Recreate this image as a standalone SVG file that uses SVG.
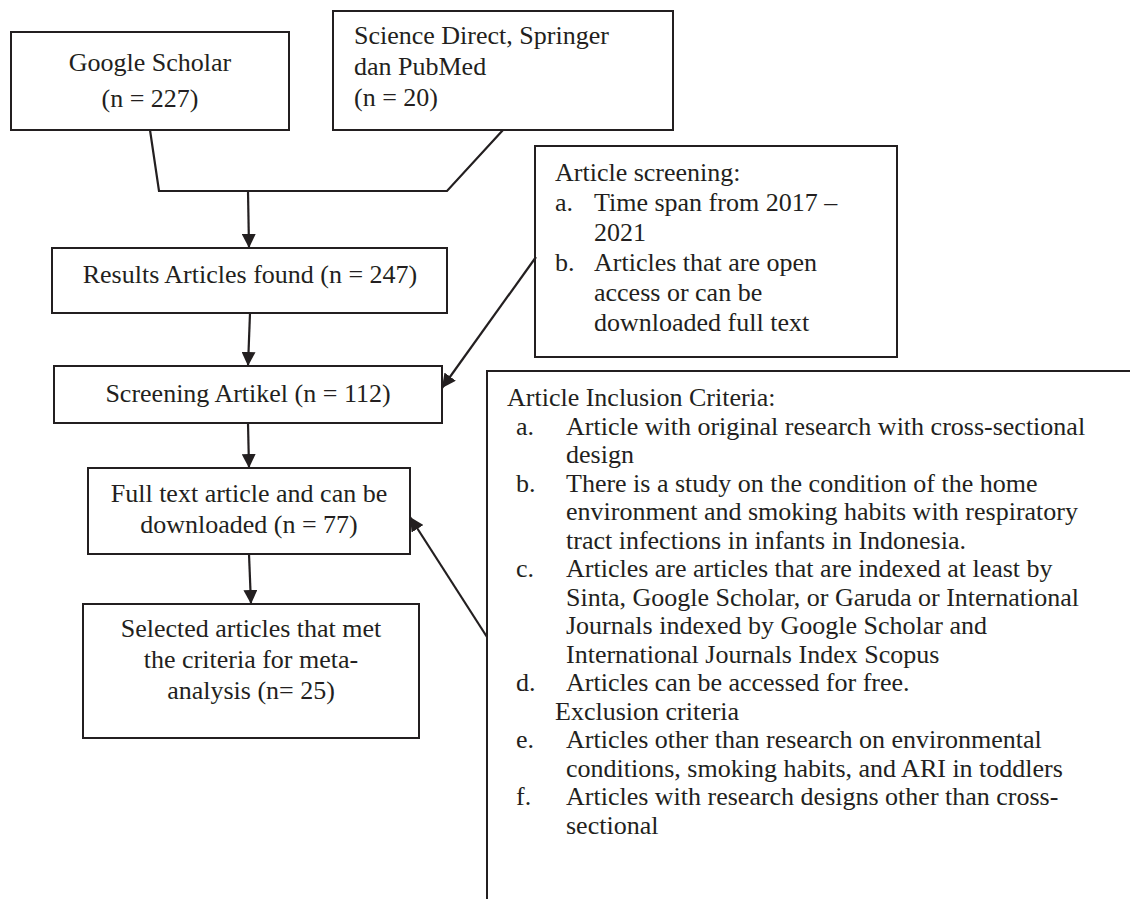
<svg xmlns="http://www.w3.org/2000/svg" width="1130" height="899" viewBox="0 0 1130 899">
<defs>
<style>
.box{fill:#fff;stroke:#231f20;stroke-width:2}
.t{font-family:"Liberation Serif","Times New Roman",serif;font-size:26px;fill:#231f20}
.c{text-anchor:middle}
.ln{fill:none;stroke:#231f20;stroke-width:2.2}
</style>
<marker id="ah" viewBox="0 0 14 14" refX="14" refY="7" markerWidth="14" markerHeight="14" markerUnits="userSpaceOnUse" orient="auto">
<path d="M0,0 L14,7 L0,14 Z" fill="#231f20"/>
</marker>
</defs>
<rect width="1130" height="899" fill="#fff"/>

<g id="google-scholar">
<rect class="box" x="11" y="32" width="278" height="98"/>
<text class="t c" x="150" y="71">Google Scholar</text>
<text class="t c" x="150" y="107">(n = 227)</text>
</g>

<g id="science-direct">
<rect class="box" x="333" y="11" width="340" height="119"/>
<text class="t" x="354" y="44">Science Direct, Springer</text>
<text class="t" x="354" y="75">dan PubMed</text>
<text class="t" x="354" y="106">(n = 20)</text>
</g>

<g id="article-screening">
<rect class="box" x="535" y="146" width="362" height="211"/>
<text class="t" x="555" y="181">Article screening:</text>
<text class="t" x="555" y="211">a.</text>
<text class="t" x="594" y="211">Time span from 2017 –</text>
<text class="t" x="594" y="241">2021</text>
<text class="t" x="555" y="271">b.</text>
<text class="t" x="594" y="271">Articles that are open</text>
<text class="t" x="594" y="301">access or can be</text>
<text class="t" x="594" y="331">downloaded full text</text>
</g>

<g id="results">
<rect class="box" x="52" y="248" width="395" height="65"/>
<text class="t c" x="250" y="283">Results Articles found (n = 247)</text>
</g>

<g id="screening">
<rect class="box" x="54" y="366" width="388" height="57"/>
<text class="t c" x="248" y="402">Screening Artikel (n = 112)</text>
</g>

<g id="fulltext">
<rect class="box" x="88" y="468" width="322" height="86"/>
<text class="t c" x="249" y="502">Full text article and can be</text>
<text class="t c" x="249" y="533">downloaded (n = 77)</text>
</g>

<g id="selected">
<rect class="box" x="83" y="604" width="336" height="134"/>
<text class="t c" x="251" y="637">Selected articles that met</text>
<text class="t c" x="251" y="668">the criteria for meta-</text>
<text class="t c" x="251" y="699">analysis (n= 25)</text>
</g>

<g id="inclusion">
<path class="box" style="fill:none" d="M487,899 L487,371 L1130,371"/>
<text class="t" x="507" y="406">Article Inclusion Criteria:</text>
<text class="t" x="516" y="434.5">a.</text>
<text class="t" x="566" y="434.5">Article with original research with cross-sectional</text>
<text class="t" x="566" y="463">design</text>
<text class="t" x="516" y="491.5">b.</text>
<text class="t" x="566" y="491.5">There is a study on the condition of the home</text>
<text class="t" x="566" y="520">environment and smoking habits with respiratory</text>
<text class="t" x="566" y="548.5">tract infections in infants in Indonesia.</text>
<text class="t" x="516" y="577">c.</text>
<text class="t" x="566" y="577">Articles are articles that are indexed at least by</text>
<text class="t" x="566" y="605.5">Sinta, Google Scholar, or Garuda or International</text>
<text class="t" x="566" y="634">Journals indexed by Google Scholar and</text>
<text class="t" x="566" y="662.5">International Journals Index Scopus</text>
<text class="t" x="516" y="691">d.</text>
<text class="t" x="566" y="691">Articles can be accessed for free.</text>
<text class="t" x="555" y="719.5">Exclusion criteria</text>
<text class="t" x="516" y="748">e.</text>
<text class="t" x="566" y="748">Articles other than research on environmental</text>
<text class="t" x="566" y="776.5">conditions, smoking habits, and ARI in toddlers</text>
<text class="t" x="516" y="805">f.</text>
<text class="t" x="566" y="805">Articles with research designs other than cross-</text>
<text class="t" x="566" y="833.5">sectional</text>
</g>

<g id="connectors">
<path class="ln" d="M150,130 L159,191 L447,191 L503,130"/>
<path class="ln" d="M248,191 L249,248" marker-end="url(#ah)"/>
<path class="ln" d="M250,313 L248,366" marker-end="url(#ah)"/>
<path class="ln" d="M536,257 L442,388" marker-end="url(#ah)"/>
<path class="ln" d="M248,423 L249,468" marker-end="url(#ah)"/>
<path class="ln" d="M249,554 L251,604" marker-end="url(#ah)"/>
<path class="ln" d="M487,637 L410,517" marker-end="url(#ah)"/>
</g>
</svg>
